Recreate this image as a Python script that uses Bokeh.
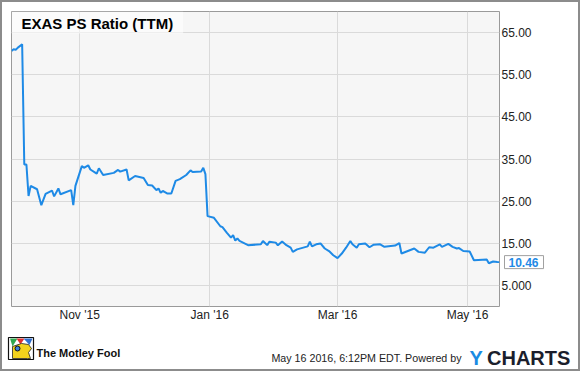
import pandas as pd
from bokeh.plotting import figure
from bokeh.models import (Range1d, FixedTicker, DatetimeTickFormatter, Label,
                          ColumnDataSource)
from bokeh.layouts import column, row
from bokeh.core.properties import value
from bokeh.embed import file_html
from bokeh.resources import INLINE

# ---------------- data ----------------
dates = ["2015-09-30", "2015-10-01", "2015-10-02", "2015-10-03", "2015-10-05",
         "2015-10-06", "2015-10-07", "2015-10-08", "2015-10-09", "2015-10-12",
         "2015-10-14", "2015-10-16", "2015-10-19", "2015-10-20", "2015-10-22",
         "2015-10-23", "2015-10-28", "2015-10-29", "2015-10-30", "2015-11-02",
         "2015-11-03", "2015-11-05", "2015-11-06", "2015-11-09", "2015-11-10",
         "2015-11-12", "2015-11-17", "2015-11-19", "2015-11-20", "2015-11-23",
         "2015-11-24", "2015-11-27", "2015-12-01", "2015-12-03", "2015-12-05",
         "2015-12-07", "2015-12-08", "2015-12-09", "2015-12-10", "2015-12-12",
         "2015-12-14", "2015-12-16", "2015-12-18", "2015-12-21", "2015-12-23",
         "2015-12-24", "2015-12-28", "2015-12-29", "2015-12-30", "2015-12-31",
         "2016-01-03", "2016-01-06", "2016-01-07", "2016-01-09", "2016-01-11",
         "2016-01-12", "2016-01-13", "2016-01-14", "2016-01-15", "2016-01-19",
         "2016-01-25", "2016-01-26", "2016-01-28", "2016-01-29", "2016-02-01",
         "2016-02-02", "2016-02-04", "2016-02-06", "2016-02-08", "2016-02-09",
         "2016-02-11", "2016-02-16", "2016-02-17", "2016-02-18", "2016-02-20",
         "2016-02-22", "2016-02-24", "2016-02-26", "2016-02-28", "2016-03-01",
         "2016-03-03", "2016-03-05", "2016-03-07", "2016-03-08", "2016-03-10",
         "2016-03-11", "2016-03-14", "2016-03-16", "2016-03-18", "2016-03-21",
         "2016-03-23", "2016-03-28", "2016-03-30", "2016-03-31", "2016-04-03",
         "2016-04-06", "2016-04-08", "2016-04-11", "2016-04-13", "2016-04-15",
         "2016-04-18", "2016-04-19", "2016-04-22", "2016-04-24", "2016-04-26",
         "2016-04-27", "2016-04-29", "2016-05-02", "2016-05-04", "2016-05-10",
         "2016-05-11", "2016-05-13", "2016-05-15", "2016-05-16"]

ps_ratio = [60.7, 61.1, 61.0, 61.5, 62.3, 33.7, 33.7, 26.2, 28.6, 27.8,
            24.0, 26.7, 27.5, 26.1, 28.0, 26.6, 27.6, 24.0, 28.6, 33.3,
            32.9, 33.5, 32.5, 31.5, 32.8, 31.2, 31.7, 32.4, 32.0, 32.5,
            29.9, 30.95, 30.5, 28.8, 28.7, 27.6, 28.0, 26.95, 27.4, 26.8,
            26.8, 29.8, 30.2, 31.2, 32.3, 31.9, 32.0, 32.9, 31.4, 21.4,
            21.0, 19.0, 18.8, 17.5, 16.3, 16.9, 15.6, 16.1, 15.5, 14.5,
            14.7, 15.5, 14.5, 15.3, 15.1, 14.45, 15.35, 14.5, 13.9, 12.9,
            13.5, 14.2, 15.3, 14.2, 14.7, 14.9, 13.7, 13.1, 12.1, 11.4,
            12.5, 13.9, 15.5, 14.7, 13.9, 14.7, 14.9, 14.0, 14.6, 14.7,
            14.1, 14.4, 15.0, 12.5, 13.1, 13.7, 12.9, 12.7, 14.0, 13.9,
            14.7, 14.1, 14.8, 14.1, 13.7, 13.8, 13.1, 13.0, 10.9, 11.1,
            10.2, 10.6, 10.5, 10.46]

x_tick_dates = ["2015-11-01", "2016-01-01", "2016-03-01", "2016-05-01"]
y_ticks = [5, 15, 25, 35, 45, 55, 65]
y_tick_labels = ["5.000", "15.00", "25.00", "35.00", "45.00", "55.00", "65.00"]
y_limits = [-0.1, 70.1]

title_text = "EXAS PS Ratio (TTM)"
footer_stamp = "May 16 2016, 6:12PM EDT.  Powered by"
fool_text = "The Motley Fool"

# ---------------- styles / geometry ----------------
FONT = "Liberation Sans"
LINE = "#1e8ae6"
W, H = 576, 367
BL, BT, FW, FH = 9, 9, 488, 295
MAIN_H = 326
FOOT_H = H - MAIN_H

dt = pd.to_datetime(dates)
src = ColumnDataSource(dict(x=dt, y=ps_ratio))

p = figure(width=W, height=MAIN_H, x_axis_type="datetime", y_axis_location="right",
           x_range=Range1d(dt[0], dt[-1]), y_range=Range1d(*y_limits),
           output_backend="svg", toolbar_location=None, title_location=None,
           min_border_left=BL, min_border_top=BT, min_border_right=W - BL - FW,
           min_border_bottom=MAIN_H - BT - FH,
           background_fill_color="#f6f6f6", border_fill_color="white")
p.outline_line_color = "#9a9a9a"
p.outline_line_width = 1

p.line("x", "y", source=src, line_color=LINE, line_width=2)

xt = FixedTicker(ticks=[pd.Timestamp(d).timestamp() * 1000 for d in x_tick_dates])
p.xaxis.ticker = xt
p.xgrid.ticker = xt
fmt = "%b '%y"
p.xaxis.formatter = DatetimeTickFormatter(
    microseconds=fmt, milliseconds=fmt, seconds=fmt, minsec=fmt, minutes=fmt,
    hourmin=fmt, hours=fmt, days=fmt, months=fmt, years=fmt)

yt = FixedTicker(ticks=y_ticks)
p.yaxis.ticker = yt
p.ygrid.ticker = yt
p.yaxis.major_label_overrides = {t: s for t, s in zip(y_ticks, y_tick_labels)}

for ax in (p.xaxis, p.yaxis):
    ax.axis_line_color = None
    ax.major_tick_line_color = None
    ax.minor_tick_line_color = None
    ax.major_tick_out = 0
    ax.major_tick_in = 0
    ax.minor_tick_out = 0
    ax.minor_tick_in = 0
    ax.major_label_text_font = FONT
    ax.major_label_text_font_size = "12px"
    ax.major_label_text_color = "#222222"
p.xaxis.major_label_standoff = 1
p.yaxis.major_label_standoff = 2

for g in (p.xgrid, p.ygrid):
    g.grid_line_color = "#dadada"
    g.grid_line_width = 1

title = Label(x=dt[0], y=y_limits[1], text=title_text, text_align="left",
              text_baseline="top", text_font=FONT, text_font_style="bold",
              text_font_size="15px", text_color="#000000",
              background_fill_color="white", background_fill_alpha=0.55,
              padding=dict(left=10, right=10, top=3, bottom=2))
p.add_layout(title)

end_label = Label(x=dt[-1], y=ps_ratio[-1], text=f"{ps_ratio[-1]:.2f}",
                  x_offset=5, text_align="left", text_baseline="middle",
                  text_font=FONT, text_font_style="bold", text_font_size="12px",
                  text_color=LINE, background_fill_color="white",
                  border_line_color="#a0a0a0", border_line_width=1,
                  padding=dict(left=4, right=5, top=2, bottom=2))
p.add_layout(end_label, "right")

# ---------------- footer figure (coordinates = canvas pixels) ----------------
f = figure(width=W, height=FOOT_H, x_range=Range1d(0, W),
           y_range=Range1d(H, MAIN_H), output_backend="svg", toolbar_location=None,
           title_location=None, x_axis_location=None, y_axis_location=None,
           min_border=0, background_fill_color="white", border_fill_color="white")
f.grid.visible = False
f.outline_line_color = None

# jester icon (decorative)
f.quad(left=[6], right=[31], top=[335], bottom=[357], fill_color="white",
       line_color="#111111", line_width=1.2)
f.patch(x=[7.5, 15, 10], y=[336, 336, 344], fill_color="#2fa84f", line_color=None)
f.patch(x=[14, 22, 18], y=[336, 336, 342], fill_color="#e03030", line_color=None)
f.patch(x=[21, 30, 27], y=[336, 336, 342.5], fill_color="#2f6fd0", line_color=None)
f.patch(x=[10, 19, 26, 29, 26, 28, 25, 10],
        y=[344, 341, 342, 346, 350, 356, 356, 356],
        fill_color="#f3d21c", line_color="#222222", line_width=0.8)
f.scatter(x=[15], y=[346], size=5, fill_color="#3a7fd6", line_color="#111111")

f.text(x=[34], y=[350.5], text=[fool_text], text_font=value(FONT),
       text_font_style="bold", text_font_size="11px", text_color="#111111",
       text_baseline="alphabetic", text_align="left")
f.text(x=[462], y=[355.5], text=[footer_stamp], text_font=value(FONT),
       text_font_size="10.7px", text_color="#222222", text_baseline="alphabetic",
       text_align="right")
f.text(x=[467], y=[355.5], text=["Y"], text_font=value(FONT),
       text_font_style="bold", text_font_size="20px", text_color="#1a8be3",
       text_baseline="alphabetic", text_align="left")
f.text(x=[484.5], y=[355.5], text=["CHARTS"], text_font=value(FONT),
       text_font_style="bold", text_font_size="20px", text_color="#1b1e2c",
       text_baseline="alphabetic", text_align="left")

layout = column(p, row(f, spacing=0), spacing=0,
                styles={"border": "2px solid #8c8c8c"})

open("out.html", "w").write(file_html(layout, INLINE))
